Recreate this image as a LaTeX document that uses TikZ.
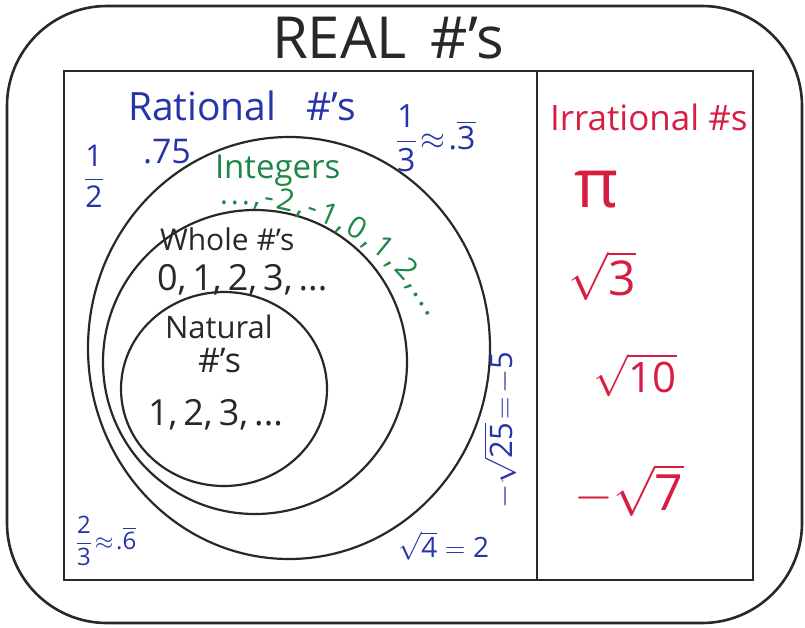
\RequirePackage{fix-cm}
\documentclass[tikz,border=0pt]{standalone}
\usepackage{amsmath}
\usepackage{fontspec}
\setmainfont{Open Sans}
\usetikzlibrary{decorations.text}
\definecolor{penblue}{RGB}{38,52,170}
\definecolor{pengreen}{RGB}{28,135,70}
\definecolor{penred}{RGB}{214,30,66}
\definecolor{ink}{RGB}{40,40,40}
\newcommand{\fs}[1]{\fontsize{#1}{#1}\selectfont}
\newcommand{\tn}[1]{\text{#1}}
\begin{document}
\begin{tikzpicture}[x=1pt,y=-1pt,
  frame/.style={draw=ink,line width=2.6pt},
  inner/.style={draw=ink,line width=2.2pt},
  setring/.style={draw=ink,line width=2.2pt},
  txt/.style={inner sep=0pt,outer sep=0pt},
  blu/.style={txt,text=penblue},
  grn/.style={txt,text=pengreen},
  rd/.style={txt,text=penred},
  blk/.style={txt,text=ink}]
\useasboundingbox (0,0) rectangle (805,627);
% frames
\draw[frame,rounded corners=100pt] (7,6) rectangle (802,623);
\draw[inner] (64,71) rectangle (753,580);
\draw[inner] (537,71) -- (537,580);
% set circles
\draw[setring] (289,348) ellipse[x radius=201pt,y radius=211pt];
\draw[setring] (255,362) ellipse[x radius=152pt,y radius=152pt];
\draw[setring] (224,389) ellipse[x radius=103pt,y radius=97pt];
% title
\node[blk,anchor=base west,font=\fs{58}] (title) at (272,58) {REAL\hspace{24pt}\#'s};
% rational
\node[blu,anchor=base west,font=\fs{39}] (rational) at (128,120) {Rational\hspace{30pt}\#'s};
\node[blu,anchor=base west,font=\fs{34}] (p75) at (143,163) {.75};
\node[blu,font=\fs{30}] (half) at (94,176) {$\dfrac{\tn{1}}{\tn{2}}$};
\node[blu,anchor=west,font=\fs{32}] (third) at (396,138) {$\dfrac{\tn{1}}{\tn{3}}\!\approx\!\tn{.}\overline{\tn{3}}$};
\node[blu,rotate=90,font=\fs{31}] (sqrt25) at (500,430) {$-\sqrt{\tn{25}}\!=\!-\tn{5}$};
\node[blu,anchor=west,font=\fs{24}] (twothirds) at (76,541) {$\dfrac{\tn{2}}{\tn{3}}\!\approx\!\tn{.}\overline{\tn{6}}$};
\node[blu,anchor=west,font=\fs{28}] (sqrt4) at (398,546) {$\sqrt{\tn{4}}=\tn{2}$};
% integers
\node[grn,anchor=base west,font=\fs{33}] (integers) at (215,178) {Integers};
\path[decorate,decoration={text along path,
  text={|\fs{30}|...,-2,-1,0,1,2,...},
  text color=pengreen,text align={fit to path}}]
  (220,205) .. controls (300,200) and (390,240) .. (428,318);
% whole
\node[blk,anchor=base west,font=\fs{30}] (whole) at (160,250) {Whole \#'s};
\node[blk,anchor=base west,font=\fs{36}] (wholelist) at (157,290) {0,\,1,\,2,\,3,\,...};
% natural
\node[blk,anchor=base west,font=\fs{31}] (natural) at (165,338) {Natural};
\node[blk,anchor=base west,font=\fs{34}] (naturalsym) at (198,372) {\#'s};
\node[blk,anchor=base west,font=\fs{36}] (natlist) at (148,425) {1,\,2,\,3,\,...};
% irrational
\node[rd,anchor=base west,font=\fs{35}] (irrational) at (550,130) {Irrational \#s};
\node[rd,font=\fs{68}] (pi) at (597,190) {π};
\node[rd,font=\fs{48}] (sqrt3) at (602,276) {$\sqrt{\tn{3}}$};
\node[rd,font=\fs{42}] (sqrt10) at (635,375) {$\sqrt{\tn{10}}$};
\node[rd,font=\fs{50}] (msqrt7) at (629,490) {$-\sqrt{\tn{7}}$};
\end{tikzpicture}
\end{document}
